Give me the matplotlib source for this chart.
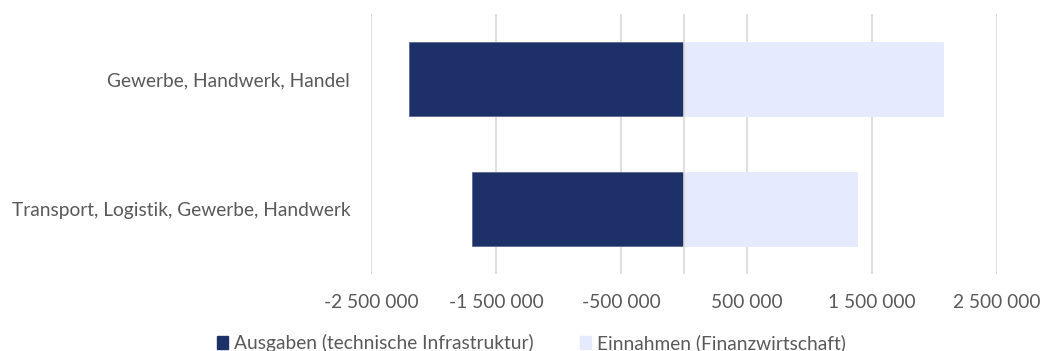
import matplotlib
matplotlib.use("Agg")
import matplotlib.pyplot as plt
from matplotlib.patches import Patch

categories = ["Transport, Logistik, Gewerbe, Handwerk", "Gewerbe, Handwerk, Handel"]
ausgaben = [-1690000, -2195000]
einnahmen = [1380000, 2070000]
series_names = ["Ausgaben (technische Infrastruktur)", "Einnahmen (Finanzwirtschaft)"]
xticks = [-2500000, -1500000, -500000, 500000, 1500000, 2500000]
xticklabels = ["-2 500 000", "-1 500 000", "-500 000", "500 000", "1 500 000", "2 500 000"]

dark = "#1D3168"
light = "#E5EAFE"
txt = "#595959"
plt.rcParams['font.family'] = ['Lato', 'DejaVu Sans']

fig = plt.figure(figsize=(10.46, 3.51), dpi=100)
ax = fig.add_axes([0.3547, 0.219, 0.5985, 0.741])
y = list(range(len(categories)))
ax.barh(y, ausgaben, height=0.57, color=dark, edgecolor="#5A6A90", linewidth=0.6, zorder=3)
ax.barh(y, einnahmen, height=0.57, color=light, edgecolor=light, linewidth=0.6, zorder=3)
ax.set_xlim(-2500000, 2500000)
ax.set_ylim(-0.5, 1.5)
ax.set_xticks(xticks)
ax.set_xticklabels(xticklabels, color=txt, fontsize=13.8)
ax.set_yticks(y)
ax.set_yticklabels(categories, color=txt, fontsize=13.8)
ax.tick_params(axis='both', length=0)
ax.tick_params(axis='y', pad=15)
ax.tick_params(axis='x', pad=14)
ax.grid(axis='x', color="#D9D9D9", linewidth=1.2, zorder=0)
ax.axvline(0, color="#D9D9D9", linewidth=1.2, zorder=4)
for s in ax.spines.values():
    s.set_visible(False)

handles = [Patch(facecolor=dark, edgecolor=dark), Patch(facecolor=light, edgecolor=light)]
leg = fig.legend(handles, series_names, loc="center", bbox_to_anchor=(0.508, 0.022), ncol=2,
                 frameon=False, fontsize=13.8, handlelength=0.6, handleheight=0.7,
                 handletextpad=0.3, columnspacing=2.4)
for t in leg.get_texts():
    t.set_color(txt)

fig.savefig("out.png", dpi=100)
